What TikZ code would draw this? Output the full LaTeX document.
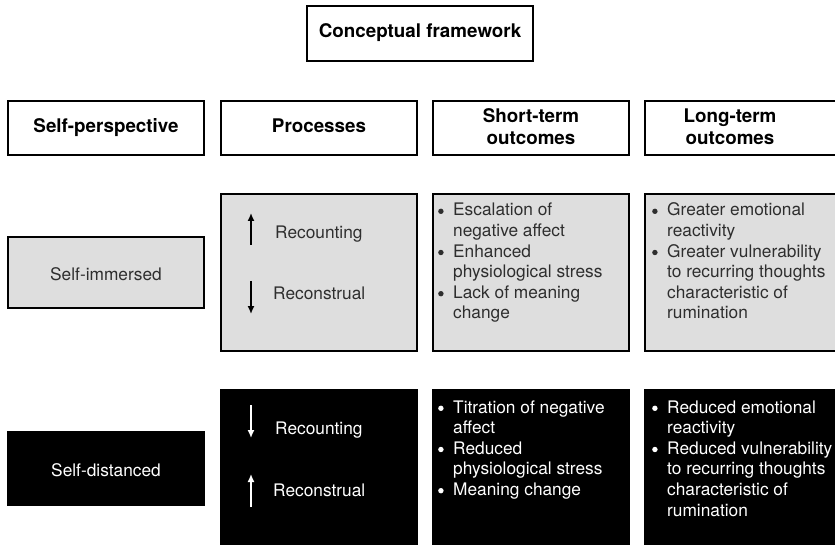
\documentclass[tikz,border=0pt]{standalone}
\usepackage{fontspec}
\setmainfont{TeX Gyre Heros}
\usetikzlibrary{arrows.meta}
\definecolor{boxgray}{HTML}{DEDEDE}
\definecolor{txtgray}{HTML}{2E2E2E}
\newcommand\bul{\makebox[15pt][l]{\tikz[baseline=0pt]\fill (2.8pt,4.7pt) circle[radius=2.7pt];}}
\newcommand\ind{\hspace*{15pt}}
\newcommand\bodyfont{\fontsize{17.3}{20.6}\selectfont}
\newcommand\hdrfont{\fontsize{18.8}{22}\selectfont\bfseries}
\newcommand\lst[1]{\begin{tabular}[t]{@{}l@{}}#1\end{tabular}}
\newcommand\clst[1]{\begin{tabular}[t]{@{}c@{}}#1\end{tabular}}
\begin{document}
\begin{tikzpicture}[x=1pt,y=-1pt,
  frame/.style={draw=black, line width=2pt, inner sep=0pt, outer sep=0pt, anchor=north west},
  wbox/.style={frame, fill=white},
  gbox/.style={frame, fill=boxgray},
  bbox/.style={frame, fill=black},
  hdr/.style={font=\hdrfont, inner sep=0pt, anchor=base},
  gtxt/.style={font=\bodyfont, text=txtgray, inner sep=0pt},
  btxt/.style={font=\bodyfont, text=white, inner sep=0pt},
  garr/.style={draw=black, line width=1.5pt, -{Latex[length=8pt,width=7pt]}},
  barr/.style={draw=white, line width=1.5pt, -{Latex[length=8pt,width=7pt]}}
]
\useasboundingbox (0,0) rectangle (835,545);
\clip (0,0) rectangle (835,545);

% title
\node[wbox, minimum width=226pt, minimum height=55pt] (title) at (307,6) {};
\node[hdr] (titletxt) at (420,38) {Conceptual framework};

% header row
\node[wbox, minimum width=196pt, minimum height=54pt] (h1) at (8,101) {};
\node[wbox, minimum width=196pt, minimum height=54pt] (h2) at (221,101) {};
\node[wbox, minimum width=196pt, minimum height=54pt] (h3) at (433,101) {};
\node[wbox, minimum width=205pt, minimum height=54pt] (h4) at (645,101) {};
\node[hdr] (h1t) at (106,133) {Self-perspective};
\node[hdr] (h2t) at (319,133) {Processes};
\node[hdr] (h3t) at (531,123) {\clst{Short-term\\outcomes}};
\node[hdr] (h4t) at (730,123) {\clst{Long-term\\outcomes}};

% row 1 (self-immersed)
\node[gbox, minimum width=196pt, minimum height=71pt] (r1a) at (8,237) {};
\node[gbox, minimum width=196pt, minimum height=157pt] (r1b) at (221,194) {};
\node[gbox, minimum width=196pt, minimum height=157pt] (r1c) at (433,194) {};
\node[gbox, minimum width=205pt, minimum height=157pt] (r1d) at (645,194) {};

\node[gtxt, anchor=base] (r1at) at (106,280) {Self-immersed};
\node[gtxt, anchor=base west] (r1b1) at (275,239) {Recounting};
\node[gtxt, anchor=base west] (r1b2) at (273,300) {Reconstrual};
\coordinate (u1s) at (251,245); \coordinate (u1e) at (251,213);
\coordinate (d1s) at (251,281); \coordinate (d1e) at (251,314);
\draw[garr] (u1s) -- (u1e);
\draw[garr] (d1s) -- (d1e);

\node[gtxt, anchor=base west] (r1ct) at (438,216) {\lst{%
\bul Escalation of\\
\ind negative affect\\
\bul Enhanced\\
\ind physiological stress\\
\bul Lack of meaning\\
\ind change}};
\node[gtxt, anchor=base west] (r1dt) at (652,216) {\lst{%
\bul Greater emotional\\
\ind reactivity\\
\bul Greater vulnerability\\
\ind to recurring thoughts\\
\ind characteristic of\\
\ind rumination}};

% row 2 (self-distanced)
\node[bbox, minimum width=196pt, minimum height=73pt] (r2a) at (8,432) {};
\node[bbox, minimum width=196pt, minimum height=175pt] (r2b) at (221,390) {};
\node[bbox, minimum width=196pt, minimum height=175pt] (r2c) at (433,390) {};
\node[bbox, minimum width=205pt, minimum height=175pt] (r2d) at (645,390) {};

\node[btxt, anchor=base] (r2at) at (106,476) {Self-distanced};
\node[btxt, anchor=base west] (r2b1) at (275,434) {Recounting};
\node[btxt, anchor=base west] (r2b2) at (273,496) {Reconstrual};
\coordinate (d2s) at (251,405); \coordinate (d2e) at (251,438);
\coordinate (u2s) at (251,507); \coordinate (u2e) at (251,474);
\draw[barr] (d2s) -- (d2e);
\draw[barr] (u2s) -- (u2e);

\node[btxt, anchor=base west] (r2ct) at (438,413) {\lst{%
\bul Titration of negative\\
\ind affect\\
\bul Reduced\\
\ind physiological stress\\
\bul Meaning change}};
\node[btxt, anchor=base west] (r2dt) at (652,413) {\lst{%
\bul Reduced emotional\\
\ind reactivity\\
\bul Reduced vulnerability\\
\ind to recurring thoughts\\
\ind characteristic of\\
\ind rumination}};
\end{tikzpicture}
\end{document}
